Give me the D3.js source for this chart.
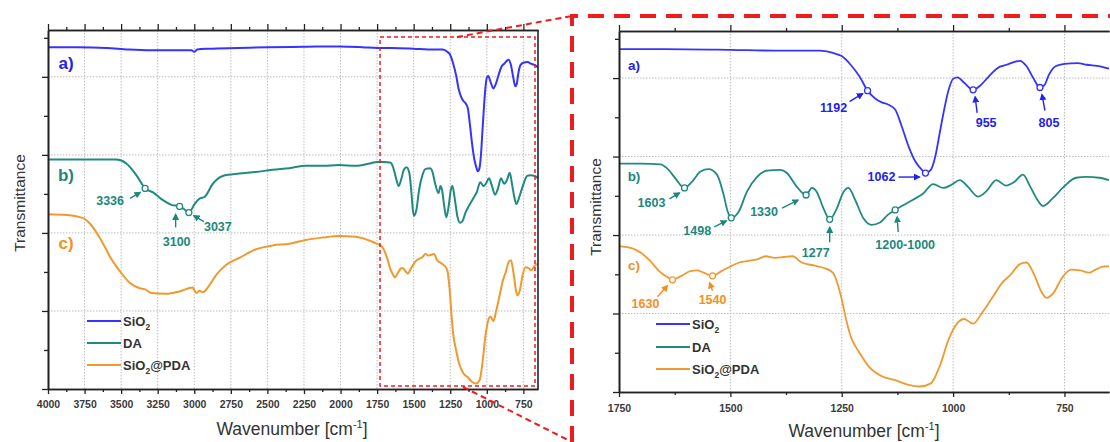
<!DOCTYPE html>
<html><head><meta charset="utf-8">
<script src="https://cdn.jsdelivr.net/npm/d3@7"></script>
<style>body{margin:0;background:#fff} text{font-family:"Liberation Sans",Arial,sans-serif}</style>
</head><body><svg id="c" width="1110" height="442"></svg>
<script>
// ---------- DATA (wavenumber cm-1, transmittance a.u.) ----------
const sio2 = [[4000,4.38],[3800,4.38],[3600,4.37],[3450,4.35],[3300,4.34],[3150,4.34],[3020,4.34],[3000,4.32],[2980,4.35],[2900,4.36],[2700,4.37],[2500,4.38],[2250,4.385],[2000,4.39],[1850,4.38],[1750,4.37],[1650,4.37],[1500,4.36],[1400,4.35],[1300,4.35],[1270,4.32],[1250,4.28],[1230,4.17],[1210,4.02],[1192,3.84],[1175,3.74],[1160,3.69],[1145,3.66],[1130,3.6],[1115,3.38],[1100,3.13],[1085,2.94],[1070,2.83],[1062,2.79],[1050,2.83],[1040,3.0],[1030,3.3],[1020,3.6],[1010,3.85],[1000,3.99],[990,4.01],[975,3.94],[955,3.85],[940,3.9],[920,4.02],[900,4.13],[880,4.17],[860,4.21],[850,4.22],[835,4.15],[820,4.0],[805,3.88],[795,3.91],[785,4.04],[770,4.15],[750,4.18],[720,4.19],[700,4.17],[670,4.15],[650,4.12]];
const da = [[4000,2.94],[3700,2.94],[3532,2.94],[3464,2.89],[3396,2.74],[3336,2.57],[3282,2.52],[3214,2.42],[3157,2.36],[3100,2.34],[3067,2.3],[3037,2.26],[2998,2.37],[2964,2.44],[2930,2.46],[2873,2.63],[2805,2.73],[2692,2.76],[2580,2.78],[2465,2.81],[2350,2.83],[2238,2.86],[2120,2.86],[2010,2.87],[1897,2.86],[1800,2.89],[1750,2.91],[1700,2.91],[1657,2.9],[1642,2.85],[1623,2.72],[1603,2.6],[1586,2.68],[1567,2.81],[1549,2.84],[1530,2.77],[1515,2.51],[1506,2.3],[1498,2.22],[1481,2.3],[1463,2.55],[1440,2.74],[1418,2.82],[1388,2.83],[1373,2.79],[1354,2.64],[1330,2.51],[1317,2.6],[1306,2.55],[1291,2.34],[1277,2.2],[1261,2.34],[1246,2.55],[1235,2.6],[1220,2.45],[1201,2.21],[1183,2.13],[1164,2.16],[1146,2.26],[1130,2.32],[1112,2.38],[1090,2.45],[1067,2.53],[1045,2.65],[1022,2.6],[1004,2.64],[985,2.7],[966,2.61],[944,2.49],[925,2.56],[903,2.7],[881,2.63],[862,2.68],[843,2.77],[828,2.63],[813,2.47],[798,2.37],[776,2.47],[754,2.6],[724,2.73],[701,2.74],[672,2.73],[650,2.7]];
const pda = [[4000,2.24],[3873,2.23],[3759,2.19],[3714,2.12],[3657,1.97],[3600,1.78],[3578,1.7],[3509,1.51],[3441,1.36],[3373,1.29],[3339,1.28],[3294,1.23],[3191,1.22],[3101,1.25],[3010,1.3],[2987,1.23],[2964,1.26],[2942,1.24],[2896,1.33],[2851,1.46],[2783,1.59],[2692,1.68],[2578,1.79],[2465,1.84],[2351,1.86],[2238,1.91],[2124,1.94],[2010,1.96],[1897,1.95],[1800,1.9],[1750,1.86],[1720,1.83],[1700,1.77],[1680,1.67],[1660,1.54],[1640,1.46],[1630,1.43],[1610,1.48],[1590,1.54],[1575,1.55],[1560,1.52],[1540,1.48],[1520,1.54],[1500,1.6],[1480,1.65],[1460,1.67],[1440,1.69],[1420,1.73],[1400,1.71],[1380,1.72],[1360,1.73],[1340,1.65],[1310,1.61],[1290,1.58],[1270,1.52],[1260,1.39],[1250,1.18],[1240,0.92],[1230,0.71],[1210,0.5],[1190,0.33],[1160,0.2],[1130,0.15],[1100,0.09],[1075,0.07],[1050,0.11],[1030,0.33],[1010,0.67],[990,0.88],[975,0.93],[955,0.87],[935,1.01],[910,1.22],[890,1.39],[870,1.5],[850,1.63],[835,1.65],[820,1.52],[800,1.26],[790,1.2],[775,1.26],[755,1.46],[735,1.56],[715,1.55],[695,1.52],[680,1.56],[660,1.6],[650,1.6]];

const seriesNames = ["SiO2","DA","SiO2@PDA"];
const curveTags = ["a)","b)","c)"];
const leftTicks = [4000,3750,3500,3250,3000,2750,2500,2250,2000,1750,1500,1250,1000,750];
const rightTicks = [1750,1500,1250,1000,750];
const yMajor = [0,1,2,3,4];
const yMinor = [0.5,1.5,2.5,3.5,4.5];
// peak annotations: series index, wavenumber, label
const leftPeaks = [[1,3336,"3336"],[1,3100,"3100"],[1,3037,"3037"]];
const rightPeaks = [[0,1192,"1192"],[0,1062,"1062"],[0,955,"955"],[0,805,"805"],
  [1,1603,"1603"],[1,1498,"1498"],[1,1330,"1330"],[1,1277,"1277"],[1,1130,"1200-1000"],
  [2,1630,"1630"],[2,1540,"1540"]];

// ---------- STYLE / LAYOUT ----------
const series = [sio2, da, pda];
const lineCol = ["#3434ff","#218a80","#f0992e"];
const textCol = ["#2222ee","#1d877d","#f58f1c"];
// label offset (dx,dy) and arrow from (ax0,ay0) to (ax1,ay1), all relative to the marker
const annLayout = {
  "3336":[-35,13,-15,10,-5,4], "3100":[-3,36,-4,21,-4,8], "3037":[29,14,15,9,5,3],
  "1192":[-34,17,-18,11,-5,3], "1062":[-44,4,-27,4,-6,4], "955":[13,33,4,23,2,7], "805":[9,35,5,23,2,7],
  "1603":[-33,15,-15,11,-5,5], "1498":[-34,13,-17,9,-5,3], "1330":[-42,17,-24,13,-8,5],
  "1277":[-14,34,0,23,0,8], "1200-1000":[10,35,3,22,2,7], "1630":[-27,24,-15,17,-5,6], "1540":[0,24,0,15,-3,7]
};
const panels = [
  {dom:[4000,650], xr:[48,538], yr:[389,30], ticks:leftTicks, minorStep:125, peaks:leftPeaks,
   tagX:66, tagY:[63,175,243], tagSize:17, annSize:12.5, width:2, legX:87, legY:[321,343,365],
   ylabX:19, ylabY:203, xlabX:292, xlabY:435, rightAxis:true},
  {dom:[1750,650], xr:[619,1109], yr:[392,31], ticks:rightTicks, minorStep:125, peaks:rightPeaks,
   tagX:634, tagY:[65,176,265], tagSize:13.5, annSize:12.5, width:1.8, legX:656, legY:[324,347,369],
   ylabX:595, ylabY:207, xlabX:864, xlabY:437, rightAxis:false}
];

const svg = d3.select("#c");
svg.append("rect").attr("width",1110).attr("height",442).attr("fill","#fff");
const defs = svg.append("defs");
lineCol.forEach((c,i)=>{
  defs.append("marker").attr("id","ah"+i).attr("viewBox","0 0 10 10").attr("refX",8).attr("refY",5)
    .attr("markerWidth",7).attr("markerHeight",7).attr("markerUnits","userSpaceOnUse").attr("orient","auto")
    .append("path").attr("d","M0,0L10,5L0,10z").attr("fill",textCol[i]);
});

function interp(data, wn){
  for(let i=0;i<data.length-1;i++){
    const a=data[i], b=data[i+1];
    if(wn<=a[0] && wn>=b[0]){ const t=(a[0]-wn)/(a[0]-b[0]); return a[1]+t*(b[1]-a[1]); }
  }
  return data[data.length-1][1];
}

panels.forEach((P,pi)=>{
  const x = d3.scaleLinear().domain(P.dom).range(P.xr);
  const y = d3.scaleLinear().domain([0,4.6]).range(P.yr);
  const g = svg.append("g");
  const [X0,X1]=P.xr, [Y0,Y1]=P.yr;
  // grid
  const gridX = P.ticks.filter(t=>x(t)>X0+2 && x(t)<X1-2);
  g.selectAll(".gx").data(gridX).enter().append("line").attr("x1",d=>x(d)).attr("x2",d=>x(d))
    .attr("y1",Y1).attr("y2",Y0).attr("stroke","#bdbdbd").attr("stroke-width",1).attr("stroke-dasharray","1.5,1.5");
  g.selectAll(".gy").data(yMajor.filter(v=>v>0)).enter().append("line").attr("y1",d=>y(d)).attr("y2",d=>y(d))
    .attr("x1",X0).attr("x2",X1).attr("stroke","#bdbdbd").attr("stroke-width",1).attr("stroke-dasharray","1.5,1.5");
  // curves
  const cid="clip"+pi;
  defs.append("clipPath").attr("id",cid).append("rect").attr("x",X0).attr("y",Y1).attr("width",X1-X0+2).attr("height",Y0-Y1);
  const line = d3.line().x(d=>x(d[0])).y(d=>y(d[1])).curve(d3.curveMonotoneX);
  series.forEach((s,si)=>{
    g.append("path").attr("d",line(s)).attr("fill","none").attr("stroke",lineCol[si])
      .attr("stroke-width",P.width).attr("stroke-linejoin","round").attr("clip-path",`url(#${cid})`);
  });
  // axes
  const minor = d3.range(P.dom[0], P.dom[1]-1, -P.minorStep).filter(v=>!P.ticks.includes(v));
  const axCol="#222";
  const bot = g.append("g").attr("transform",`translate(0,${Y0})`)
    .call(d3.axisBottom(x).tickValues(P.ticks).tickSize(5).tickPadding(pi?8:7).tickSizeOuter(0).tickFormat(d3.format("d")));
  g.append("g").attr("transform",`translate(0,${Y0})`).call(d3.axisBottom(x).tickValues(minor).tickSize(3).tickFormat("").tickSizeOuter(0));
  g.append("g").attr("transform",`translate(0,${Y1})`).call(d3.axisTop(x).tickValues(P.ticks).tickSize(6).tickFormat("").tickSizeOuter(0));
  g.append("g").attr("transform",`translate(0,${Y1})`).call(d3.axisTop(x).tickValues(minor).tickSize(3).tickFormat("").tickSizeOuter(0));
  g.append("g").attr("transform",`translate(${X0},0)`).call(d3.axisLeft(y).tickValues(yMajor).tickSize(6).tickFormat("").tickSizeOuter(0));
  g.append("g").attr("transform",`translate(${X0},0)`).call(d3.axisLeft(y).tickValues(yMinor).tickSize(4).tickFormat("").tickSizeOuter(0));
  g.selectAll(".domain").attr("stroke",axCol).attr("stroke-width",1.6);
  g.selectAll(".tick line").attr("stroke",axCol).attr("stroke-width",1.3);
  bot.selectAll("text").attr("font-family","Liberation Sans, Arial, sans-serif").attr("font-weight","bold")
    .attr("font-size",10.5).attr("fill","#3a3a3a");
  if(P.rightAxis) g.append("line").attr("x1",X1).attr("x2",X1).attr("y1",Y1).attr("y2",Y0).attr("stroke",axCol).attr("stroke-width",1.6);
  // axis titles
  g.append("text").attr("transform",`translate(${P.ylabX},${P.ylabY}) rotate(-90)`).attr("text-anchor","middle")
    .attr("dominant-baseline","central").attr("font-size",15.5).attr("fill","#333").text("Transmittance");
  const xl = g.append("text").attr("x",P.xlabX).attr("y",P.xlabY).attr("text-anchor","middle").attr("font-size",17.5).attr("fill","#333");
  xl.append("tspan").text("Wavenumber [cm");
  xl.append("tspan").attr("font-size",11).attr("dy",-7).text("-1");
  xl.append("tspan").attr("dy",7).text("]");
  // curve tags
  curveTags.forEach((t,i)=>{
    g.append("text").attr("x",P.tagX).attr("y",P.tagY[i]).attr("dominant-baseline","central").attr("text-anchor","middle")
      .attr("font-family","Open Sans, sans-serif").attr("font-weight","bold").attr("font-size",P.tagSize).attr("fill",textCol[i]).text(t);
  });
  // legend
  seriesNames.forEach((n,i)=>{
    const ly=P.legY[i];
    g.append("line").attr("x1",P.legX).attr("x2",P.legX+34).attr("y1",ly).attr("y2",ly).attr("stroke",lineCol[i]).attr("stroke-width",2.2);
    const t=g.append("text").attr("x",P.legX+36).attr("y",ly+5).attr("font-weight","bold").attr("font-size",13).attr("fill","#333");
    if(n.startsWith("SiO2")){
      t.append("tspan").text("SiO");
      t.append("tspan").attr("font-size",8.5).attr("dy",4).text("2");
      if(n.length>4) t.append("tspan").attr("dy",-4).text(n.slice(4));
    } else t.text(n);
  });
  // annotations
  P.peaks.forEach(([si,wn,lab])=>{
    const px=x(wn), py=y(interp(series[si],wn));
    const L=annLayout[lab];
    g.append("line").attr("x1",px+L[2]).attr("y1",py+L[3]).attr("x2",px+L[4]).attr("y2",py+L[5])
      .attr("stroke",textCol[si]).attr("stroke-width",1.4).attr("marker-end",`url(#ah${si})`);
    g.append("circle").attr("cx",px).attr("cy",py).attr("r",3).attr("fill","#fff").attr("stroke",lineCol[si]).attr("stroke-width",1.3);
    g.append("text").attr("x",px+L[0]).attr("y",py+L[1]).attr("text-anchor","middle").attr("dominant-baseline","central")
      .attr("font-family","Open Sans, sans-serif").attr("font-weight","bold").attr("font-size",P.annSize).attr("fill",textCol[si]).text(lab);
  });
});

// red zoom indicators
const red="#ee1c1c";
svg.append("rect").attr("x",380).attr("y",37).attr("width",155).attr("height",349).attr("fill","none")
  .attr("stroke",red).attr("stroke-width",1.5).attr("stroke-dasharray","4,3");
svg.append("line").attr("x1",457).attr("y1",37).attr("x2",572).attr("y2",16).attr("stroke",red).attr("stroke-width",2).attr("stroke-dasharray","6,4");
svg.append("line").attr("x1",463).attr("y1",387).attr("x2",572).attr("y2",442).attr("stroke",red).attr("stroke-width",2).attr("stroke-dasharray","6,4");
svg.append("path").attr("d","M572,442L572,16L1110,16").attr("fill","none").attr("stroke",red).attr("stroke-width",4).attr("stroke-dasharray","16,10");
</script></body></html>
